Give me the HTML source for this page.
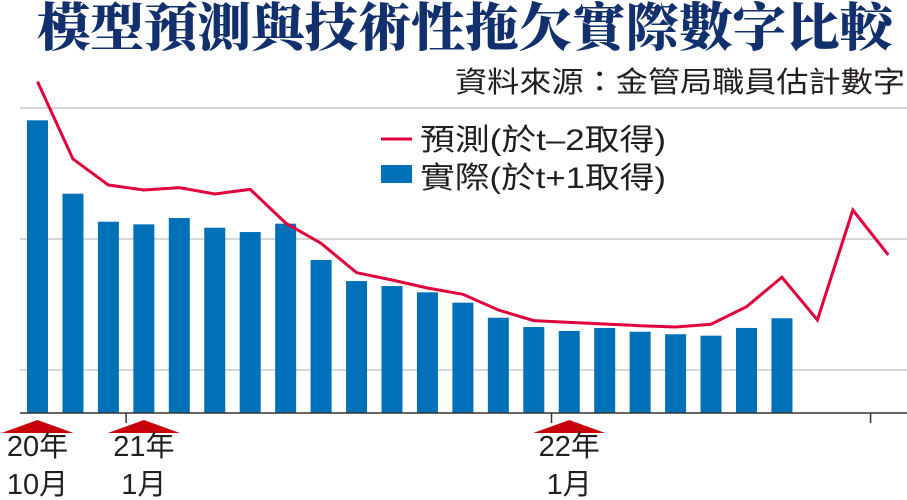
<!DOCTYPE html>
<html><head><meta charset="utf-8">
<style>
html,body{margin:0;padding:0;background:#fff;}
body{width:907px;height:500px;overflow:hidden;position:relative;}
svg{position:absolute;left:0;top:0;}
</style></head>
<body>
<svg width="907" height="500" viewBox="0 0 907 500">
<text x="465" y="46" text-anchor="middle" font-family="'Noto Serif CJK SC','Noto Serif CJK TC',serif" font-weight="900" font-size="52" fill="#13306e" textLength="856" lengthAdjust="spacingAndGlyphs">模型預測與技術性拖欠實際數字比較</text>
<text x="905" y="92" text-anchor="end" font-family="'Liberation Sans','Noto Sans CJK TC',sans-serif" font-size="29" fill="#231f20" textLength="450" lengthAdjust="spacingAndGlyphs">資料來源：金管局職員估計數字</text>
<g id="grid"></g>
<g id="bars"></g>
<g id="line"></g>
<g id="axis"></g>
<g>
<line x1="381" y1="139" x2="412" y2="139" stroke="#e0003c" stroke-width="3"/>
<text x="420" y="150" font-family="'Liberation Sans','Noto Sans CJK TC',sans-serif" font-size="30" fill="#231f20" textLength="246" lengthAdjust="spacingAndGlyphs">預測(於t–2取得)</text>
<rect x="381" y="165" width="31" height="18" fill="#0071b8"/>
<text x="420" y="188" font-family="'Liberation Sans','Noto Sans CJK TC',sans-serif" font-size="30" fill="#231f20" textLength="246" lengthAdjust="spacingAndGlyphs">實際(於t+1取得)</text>
</g>
</svg>
<script>
const actualValues=[2.906,2.346,2.132,2.112,2.160,2.086,2.053,2.117,1.840,1.679,1.641,1.593,1.514,1.399,1.328,1.298,1.321,1.292,1.273,1.262,1.321,1.395];
const forecastValues=[3.201,2.611,2.412,2.374,2.392,2.344,2.379,2.122,1.967,1.743,1.687,1.626,1.578,1.458,1.377,1.364,1.351,1.338,1.328,1.349,1.483,1.708,1.382,2.221,1.878];
const gridValues=[1,2,3];
const axisMin=0.672;
const tickIndices=[2.5,14.5,23.5];
const markerIndices=[0,3,15];
const yearLabels=['20年','21年','22年'];
const monthLabels=['10月','1月','1月'];

const NS='http://www.w3.org/2000/svg';
function xs(i){return 37.5+i*35.45;}
function ys(v){return 370-(v-1)*131;}
function mk(tag,attrs,parent){const e=document.createElementNS(NS,tag);for(const k in attrs)e.setAttribute(k,attrs[k]);parent.appendChild(e);return e;}
const base=ys(axisMin);
const gG=document.getElementById('grid');
gridValues.forEach(v=>{
  const l=mk('line',{x1:20,x2:907,y1:ys(v),y2:ys(v),stroke:'#c8c8c8','stroke-width':1.5},gG);
  
  
});
const gB=document.getElementById('bars');
actualValues.forEach((v,i)=>{
  const r=mk('rect',{x:xs(i)-10.5,y:ys(v),width:21,height:base-ys(v),fill:'#0071b8'},gB);
  
  
});
const gL=document.getElementById('line');
const pl=mk('polyline',{points:forecastValues.map((v,i)=>xs(i)+','+ys(v)).join(' '),fill:'none',stroke:'#e0003c','stroke-width':3,'stroke-linejoin':'miter'},gL);


const gA=document.getElementById('axis');
const bl=mk('line',{x1:20,x2:907,y1:base,y2:base,stroke:'#333','stroke-width':1.5},gA);


tickIndices.forEach(t=>{
  const l=mk('line',{x1:xs(t),x2:xs(t),y1:base,y2:base+10,stroke:'#333','stroke-width':1.5},gA);
  
  
});
markerIndices.forEach((m,k)=>{
  const cx=xs(m);
  const tri=mk('polygon',{points:(cx-36)+',433 '+cx+',420 '+(cx+36)+',433',fill:'#c8000a'},gA);
  
  
  const t1=mk('text',{x:cx,y:456,'text-anchor':'middle','font-family':"'Liberation Sans','Noto Sans CJK TC',sans-serif",'font-size':29,fill:'#231f20'},gA);
  t1.textContent=yearLabels[k];
  
  
  const t2=mk('text',{x:cx,y:494,'text-anchor':'middle','font-family':"'Liberation Sans','Noto Sans CJK TC',sans-serif",'font-size':29,fill:'#231f20'},gA);
  t2.textContent=monthLabels[k];
  
  
});
</script>
</body></html>
